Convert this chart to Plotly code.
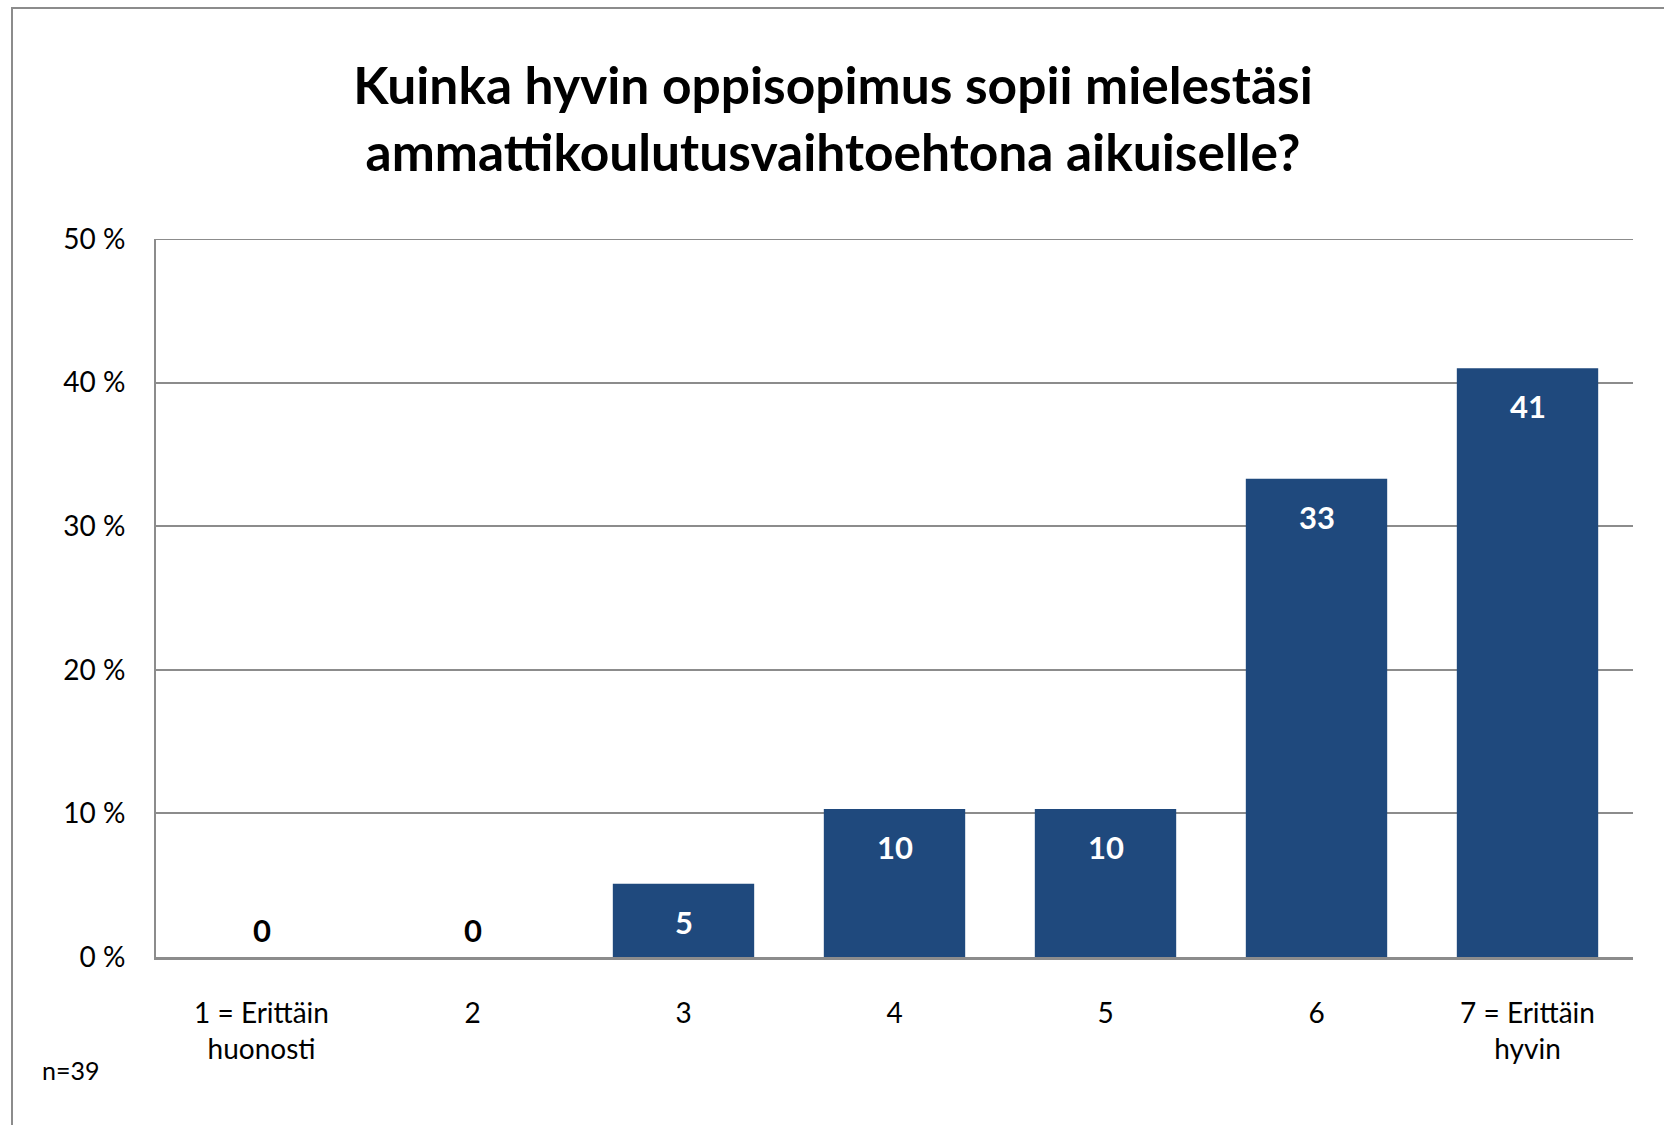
import plotly.graph_objects as go

categories = ["1 = Erittäin<br>huonosti", "2", "3", "4", "5", "6", "7 = Erittäin<br>hyvin"]
percent_values = [0.0, 0.0, 5.1, 10.3, 10.3, 33.3, 41.0]
value_labels = ["0", "0", "5", "10", "10", "33", "41"]
y_tick_values = [0, 10, 20, 30, 40, 50]
y_tick_labels = ["0 %", "10 %", "20 %", "30 %", "40 %", "50 %"]
title_text = "Kuinka hyvin oppisopimus sopii mielestäsi<br>ammattikoulutusvaihtoehtona aikuiselle?"
note_text = "n=39"

W, H = 1664, 1125
L, R, T, B = 156, 31, 239, 168
pw, ph = W - L - R, H - T - B
FONT = "Lato, 'Open Sans', sans-serif"
BAR = "#1F497D"
GRID = "#8C8C8C"

xpos = list(range(len(categories)))

fig = go.Figure()
fig.add_trace(go.Bar(
    x=xpos, y=percent_values, marker=dict(color=BAR, line=dict(width=0)),
    width=0.67, hoverinfo="skip",
))

for xi, v, lab in zip(xpos, percent_values, value_labels):
    if v > 0:
        fig.add_annotation(x=xi, y=v, text=f"<b>{lab}</b>", showarrow=False,
                           yanchor="middle", yshift=-38,
                           font=dict(family=FONT, size=31, color="white"))
    else:
        fig.add_annotation(x=xi, y=v, text=f"<b>{lab}</b>", showarrow=False,
                           yanchor="middle", yshift=27,
                           font=dict(family=FONT, size=31, color="black"))

def px_to_paper_x(px):
    return (px - L) / pw

def px_to_paper_y(py):
    return (H - B - py) / ph

# outer chart frame
fig.add_shape(type="rect", xref="paper", yref="paper",
              x0=px_to_paper_x(12), x1=px_to_paper_x(W + 20),
              y0=px_to_paper_y(H + 20), y1=px_to_paper_y(8),
              line=dict(color=GRID, width=2), fillcolor="rgba(0,0,0,0)", layer="below")
# top gridline at the axis maximum
fig.add_shape(type="line", xref="paper", yref="y", x0=0, x1=1,
              y0=y_tick_values[-1], y1=y_tick_values[-1],
              line=dict(color=GRID, width=2), layer="below")

fig.add_annotation(xref="paper", yref="paper", x=px_to_paper_x(40), y=px_to_paper_y(1070),
                   xanchor="left", yanchor="middle", text=note_text, showarrow=False,
                   font=dict(family=FONT, size=25, color="black"))

fig.update_layout(
    width=W, height=H,
    margin=dict(l=L, r=R, t=T, b=B),
    paper_bgcolor="white", plot_bgcolor="white",
    showlegend=False,
    title=dict(text=f"<b>{title_text}</b>", x=833 / W,
               xanchor="center", y=1 - 104 / H, yanchor="middle",
               font=dict(family=FONT, size=51.5, color="black")),
    bargap=0.33,
)
fig.update_yaxes(range=[0, 50], tickvals=y_tick_values, ticktext=y_tick_labels,
                 showgrid=True, gridcolor=GRID, gridwidth=2,
                 showline=True, linecolor=GRID, linewidth=2,
                 zeroline=False, ticks="", ticklabelstandoff=23,
                 tickfont=dict(family=FONT, size=28, color="black"))
fig.update_xaxes(tickvals=xpos, ticktext=categories, range=[-0.5, len(categories) - 0.5],
                 showline=True, linecolor=GRID, linewidth=3, ticks="",
                 ticklabelstandoff=29,
                 tickfont=dict(family=FONT, size=28, color="black"))

fig.write_html("out.html", config={"displayModeBar": False},
               post_script="document.body.style.margin='0';document.body.style.overflow='hidden';")
